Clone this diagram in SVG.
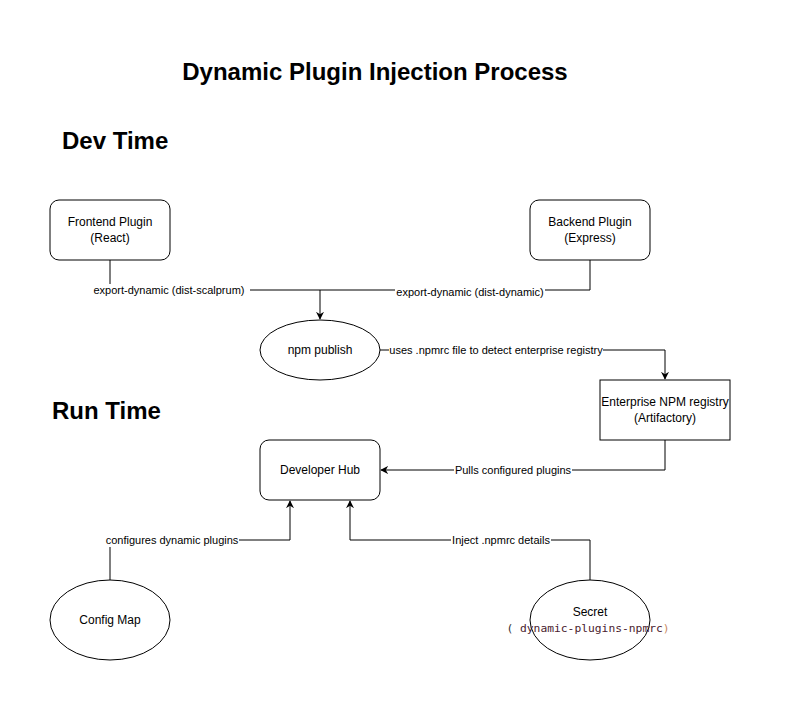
<svg xmlns="http://www.w3.org/2000/svg" width="801" height="711" viewBox="0 0 801 711">
<style>
.n{fill:#fff;stroke:#000;stroke-width:1}
.t{font-family:"Liberation Sans",Arial,sans-serif;font-size:12px;fill:#000;text-anchor:middle}
.l{font-family:"Liberation Sans",Arial,sans-serif;font-size:11px;fill:#000;text-anchor:middle}
.h{font-family:"Liberation Sans",Arial,sans-serif;font-weight:bold;fill:#000;font-size:24px}
.e{fill:none;stroke:#000;stroke-width:1}
.bg{fill:#fff}
</style>
<defs>
<marker id="a" viewBox="0 0 10 10" refX="9" refY="5" markerWidth="8" markerHeight="8" markerUnits="userSpaceOnUse" orient="auto">
<path d="M0,0 L10,5 L0,10 L3,5 Z" fill="#000"/>
</marker>
</defs>
<rect width="801" height="711" fill="#fff"/>
<g id="titles">
<text class="h" x="375" y="80" text-anchor="middle">Dynamic Plugin Injection Process</text>
<text class="h" x="62" y="149">Dev Time</text>
<text class="h" x="52" y="419">Run Time</text>
</g>
<g id="connectors">
<path class="e" d="M110,260 V290 H320 V319" marker-end="url(#a)"/>
<path class="e" d="M590,260 V290 H320"/>
<path class="e" d="M380,350 H665 V379" marker-end="url(#a)"/>
<path class="e" d="M665,440 V470 H381" marker-end="url(#a)"/>
<path class="e" d="M110,580 V540 H290 V501" marker-end="url(#a)"/>
<path class="e" d="M590,580 V540 H350 V501" marker-end="url(#a)"/>
<rect class="bg" x="87" y="284" width="163" height="13"/>
<text class="l" x="169" y="294">export-dynamic (dist-scalprum)</text>
<rect class="bg" x="395" y="286" width="150" height="13"/>
<text class="l" x="470" y="296">export-dynamic (dist-dynamic)</text>
<rect class="bg" x="389" y="344" width="214" height="13"/>
<text class="l" x="496" y="354">uses .npmrc file to detect enterprise registry</text>
<rect class="bg" x="454" y="464" width="118" height="13"/>
<text class="l" x="513" y="474">Pulls configured plugins</text>
<rect class="bg" x="105" y="534" width="134" height="13"/>
<text class="l" x="172" y="544">configures dynamic plugins</text>
<rect class="bg" x="451" y="534" width="100" height="13"/>
<text class="l" x="501" y="544">Inject .npmrc details</text>
</g>
<g id="frontend">
<rect class="n" x="50" y="200" width="120" height="60" rx="9"/>
<text class="t" x="110" y="226">Frontend Plugin</text>
<text class="t" x="110" y="242">(React)</text>
</g>
<g id="backend">
<rect class="n" x="530" y="200" width="120" height="60" rx="9"/>
<text class="t" x="590" y="226">Backend Plugin</text>
<text class="t" x="590" y="242">(Express)</text>
</g>
<g id="npm-publish">
<ellipse class="n" cx="320" cy="350" rx="60" ry="30"/>
<text class="t" x="320" y="354">npm publish</text>
</g>
<g id="registry">
<rect class="n" x="600" y="380" width="130" height="60"/>
<text class="t" x="665" y="406">Enterprise NPM registry</text>
<text class="t" x="665" y="422">(Artifactory)</text>
</g>
<g id="developer-hub">
<rect class="n" x="260" y="440" width="120" height="60" rx="9"/>
<text class="t" x="320" y="474">Developer Hub</text>
</g>
<g id="config-map">
<ellipse class="n" cx="110" cy="620" rx="60" ry="40"/>
<text class="t" x="110" y="624">Config Map</text>
</g>
<g id="secret">
<ellipse class="n" cx="590" cy="620" rx="60" ry="40"/>
<text class="t" x="590" y="616">Secret</text>
<text x="588" y="632" text-anchor="middle" font-family="'DejaVu Sans Mono','Liberation Mono',monospace" font-size="11.3"><tspan fill="#333">( </tspan><tspan fill="#4a1c2e">dynamic-plugins-npmrc</tspan><tspan fill="#c98a63">)</tspan></text>
</g>
</svg>
